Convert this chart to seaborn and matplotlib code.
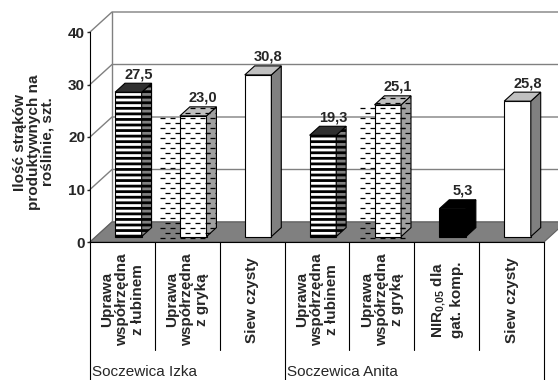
import numpy as np
import pandas as pd
import matplotlib
matplotlib.use('Agg')
import matplotlib.pyplot as plt
import matplotlib.transforms as mtransforms
from matplotlib.patches import Polygon
from matplotlib.collections import LineCollection
import seaborn as sns

# data
groups = ['Soczewica Izka', 'Soczewica Anita']
group_of = ['Soczewica Izka'] * 3 + ['Soczewica Anita'] * 4
treatments = ['Uprawa\nwspółrzędna\nz łubinem', 'Uprawa\nwspółrzędna\nz gryką', 'Siew czysty',
              'Uprawa\nwspółrzędna\nz łubinem', 'Uprawa\nwspółrzędna\nz gryką',
              'NIR$_{\\mathbf{0{,}05}}$ dla\ngat. komp.', 'Siew czysty']
values = [27.5, 23.0, 30.8, 19.3, 25.1, 5.3, 25.8]
y_ticks = [0, 10, 20, 30, 40]
y_label = 'Ilość strąków\nproduktywnych na\nroślinie, szt.'

sns.set_style('white')
plt.rcParams['font.family'] = ['Liberation Sans', 'DejaVu Sans']
plt.rcParams['mathtext.fontset'] = 'custom'
plt.rcParams['mathtext.rm'] = 'Liberation Sans'
plt.rcParams['mathtext.bf'] = 'Liberation Sans:bold'
plt.rcParams['hatch.linewidth'] = 2.0

W, H = 558, 380
DX, DY = 22, 20            # depth of the 3d box, pixels
FRONT, BACK = 0.27, 0.72   # bar front / back as part of the depth
GRID = '#808080'

fig = plt.figure(figsize=(W / 100, H / 100), dpi=100)
ax = fig.add_axes([90 / W, (H - 242) / H, 454 / W, 210 / H])

slots = [f'{g}|{t}' for g, t in zip(group_of, treatments)]
df = pd.DataFrame({'slot': slots, 'value': values})
sns.barplot(data=df, x='slot', y='value', order=slots, width=0.41,
            errorbar=None, ax=ax, zorder=3)

ax.set_xlim(-0.5, len(values) - 0.5)
ax.set_ylim(y_ticks[0], y_ticks[-1])
ax.set_autoscale_on(False)
ax.patch.set_visible(False)
for s in ['top', 'right']:
    ax.spines[s].set_visible(False)
ax.spines['left'].set_color('black')
ax.spines['bottom'].set_color('black')
ax.spines['left'].set_zorder(2)
ax.spines['bottom'].set_zorder(2)

ident = mtransforms.IdentityTransform()


def to_px(x, y, d):
    return ax.transData.transform((x, y)) + d * np.array([DX, DY])


x0, x1 = -0.5, len(values) - 0.5

# side wall and back wall
for v in y_ticks:
    pts = np.array([to_px(x0, v, 0), to_px(x0, v, 1), to_px(x1, v, 1)])
    ax.add_line(plt.Line2D(pts[:, 0], pts[:, 1], transform=ident, color=GRID,
                           lw=1, clip_on=False, zorder=0))
pts = np.array([to_px(x0, y_ticks[0], 1), to_px(x0, y_ticks[-1], 1)])
ax.add_line(plt.Line2D(pts[:, 0], pts[:, 1], transform=ident, color=GRID,
                       lw=1, clip_on=False, zorder=0))

# floor
floor = Polygon([to_px(x0, 0, 0), to_px(x1, 0, 0), to_px(x1, 0, 1), to_px(x0, 0, 1)],
                closed=True, transform=ident, facecolor=GRID, edgecolor='#606060',
                lw=0.8, clip_on=False, zorder=1)
ax.add_artist(floor)


def add_dashes(patch, verts):
    verts = np.asarray(verts)
    ymin, ymax = verts[:, 1].min(), verts[:, 1].max()
    xmin, xmax = verts[:, 0].min(), verts[:, 0].max()
    segs = []
    for yy in np.arange(np.floor(ymin / 5) * 5 + 2, ymax, 5):
        shift = 5 if int(round(yy / 5)) % 2 else 0
        for xx in np.arange(np.floor(xmin / 10) * 10 - 10 + shift, xmax, 10):
            segs.append([(xx, yy), (xx + 4.5, yy)])
    lc = LineCollection(segs, colors='black', linewidths=0.9, transform=ident,
                        zorder=4)
    lc.set_clip_path(patch)
    ax.add_collection(lc)


styles = ['stripe', 'dash', 'plain', 'stripe', 'dash', 'solid', 'plain']
front_shift = mtransforms.ScaledTranslation(FRONT * DX / 100, FRONT * DY / 100,
                                            fig.dpi_scale_trans)
for bar, style, val in zip(ax.patches, styles, values):
    bar.set_transform(ax.transData + front_shift)
    bar.set_edgecolor('black')
    bar.set_linewidth(0.8)
    bx0, bx1, h = bar.get_x(), bar.get_x() + bar.get_width(), bar.get_height()
    side = [to_px(bx1, 0, FRONT), to_px(bx1, 0, BACK), to_px(bx1, h, BACK), to_px(bx1, h, FRONT)]
    top = [to_px(bx0, h, FRONT), to_px(bx1, h, FRONT), to_px(bx1, h, BACK), to_px(bx0, h, BACK)]
    if style == 'stripe':
        front_c, side_c, top_c, hatch = 'white', GRID, '#303030', '---'
    elif style == 'dash':
        front_c, side_c, top_c, hatch = 'white', '#a0a0a0', '#c0c0c0', None
    elif style == 'solid':
        front_c, side_c, top_c, hatch = 'black', 'black', 'black', None
    else:
        front_c, side_c, top_c, hatch = 'white', GRID, '#c0c0c0', None
    bar.set_facecolor(front_c)
    if hatch:
        bar.set_hatch(hatch)
    side_p = Polygon(side, closed=True, transform=ident, facecolor=side_c,
                     edgecolor='black', lw=0.8, hatch=hatch, clip_on=False, zorder=3)
    top_p = Polygon(top, closed=True, transform=ident, facecolor=top_c,
                    edgecolor='black', lw=0.8, clip_on=False, zorder=3)
    ax.add_artist(side_p)
    ax.add_artist(top_p)
    if style == 'dash':
        add_dashes(bar, [to_px(bx0, 0, FRONT), to_px(bx1, h, FRONT)])
        add_dashes(side_p, side)
        add_dashes(top_p, top)
    lab = to_px((bx0 + bx1) / 2, h, BACK) + np.array([0, 2])
    ax.text(lab[0], lab[1], f'{val:.1f}'.replace('.', ','), transform=ident,
            ha='center', va='bottom', fontsize=10.5, fontweight='bold', zorder=5)

# axes text
ax.set_yticks(y_ticks)
ax.set_yticklabels([str(v) for v in y_ticks], fontsize=11, fontweight='bold')
ax.tick_params(axis='y', length=2.5, width=1, pad=1, left=True, direction='out')
ax.set_xticks(range(len(values)))
ax.set_xticklabels(treatments, rotation=90, fontsize=11, fontweight='bold',
                   ha='center', va='center', multialignment='center',
                   linespacing=1.1)
ax.tick_params(axis='x', length=0, pad=41.5)
ax.set_xlabel('')
ax.set_ylabel('')

fig.text(34 / W, 1 - 142 / H, y_label, rotation=90, ha='center', va='center',
         fontsize=11, fontweight='bold', multialignment='center', linespacing=1.0)

# category separators and group labels
xt = ax.get_xaxis_transform()
short_end = -(350 - 242) / 210
long_end = -(380 - 242) / 210
starts = [group_of.index(g) for g in groups]
for b in np.arange(x0, x1 + 0.5):
    is_group = (b + 0.5) in starts or b == x1
    ax.plot([b, b], [0, long_end if is_group else short_end], transform=xt,
            color='black', lw=0.8, clip_on=False)
for g, s in zip(groups, starts):
    ax.text(s - 0.5 + 0.03, -(372 - 242) / 210, g, transform=xt, ha='left',
            va='center', fontsize=11)

fig.savefig('out.png', dpi=100)
